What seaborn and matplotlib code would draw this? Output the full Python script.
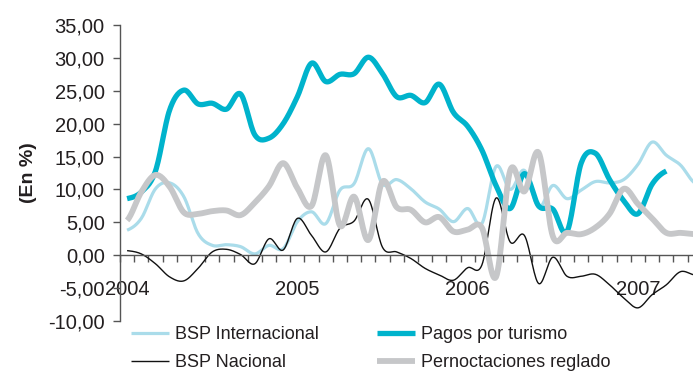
import numpy as np
import pandas as pd
import matplotlib
matplotlib.use("Agg")
import matplotlib.pyplot as plt
import seaborn as sns
from matplotlib.ticker import FixedLocator, FuncFormatter, NullFormatter

# Monthly year-on-year change (%), January 2004 onwards
years = ["2004", "2005", "2006", "2007"]
year_pos = [0, 12, 24, 36]

bsp_internacional = [3.8, 5.6, 10.1, 11.0, 8.9, 3.3, 1.5, 1.6, 1.3, 0.2,
                     1.5, 1.0, 5.1, 6.6, 4.8, 9.9, 10.9, 16.2, 10.8, 11.5,
                     10.1, 8.1, 7.0, 5.1, 7.1, 4.8, 13.5, 10.0, 12.9, 7.3,
                     10.6, 8.6, 9.9, 11.2, 11.0, 11.5, 13.8, 17.2, 15.2, 13.7,
                     11.0]
pagos_turismo = [8.6, 9.6, 12.8, 22.1, 25.1, 23.0, 23.1, 22.2, 24.5, 18.3,
                 17.8, 20.0, 24.1, 29.2, 26.4, 27.5, 27.6, 30.1, 27.6, 24.1,
                 24.3, 23.2, 26.0, 21.7, 19.6, 16.0, 10.6, 7.1, 12.4, 7.5,
                 7.0, 3.6, 14.0, 15.5, 11.5, 8.3, 6.3, 10.8, 12.8, np.nan,
                 np.nan]
bsp_nacional = [0.7, 0.2, -1.3, -3.3, -3.9, -2.0, 0.5, 0.9, 0.1, -1.3,
                2.5, 0.8, 5.6, 3.0, 0.5, 4.1, 5.2, 8.5, 1.2, 0.5,
                -0.5, -2.0, -3.0, -3.8, -1.9, -1.5, 8.7, 2.0, 3.0, -4.3,
                -0.3, -3.2, -3.2, -2.9, -4.5, -6.5, -8.0, -6.0, -4.5, -2.5,
                -3.0]
pernoctaciones = [5.3, 9.6, 12.2, 10.4, 6.5, 6.3, 6.7, 6.8, 6.1, 8.0,
                  10.5, 14.0, 10.2, 7.5, 15.2, 4.5, 8.9, 2.3, 11.2, 7.3,
                  6.9, 5.0, 5.8, 3.6, 3.9, 4.2, -3.3, 12.9, 9.7, 15.6,
                  2.9, 3.4, 3.2, 4.2, 6.3, 10.1, 7.8, 5.6, 3.4, 3.4,
                  3.2]

series = [
    ("BSP Internacional", bsp_internacional, "#aadcea", 2.3),
    ("Pagos por turismo", pagos_turismo, "#00b3cc", 3.8),
    ("BSP Nacional", bsp_nacional, "#111111", 1.0),
    ("Pernoctaciones reglado", pernoctaciones, "#c6c7c9", 4.2),
]


def smooth_curve(values, steps=16):
    """Catmull-Rom curve through the monthly points (smoothed line)."""
    y = np.asarray(values, dtype=float)
    x = np.arange(len(y), dtype=float)
    ok = ~np.isnan(y)
    x, y = x[ok], y[ok]
    xp = np.concatenate([[x[0]], x, [x[-1]]])
    yp = np.concatenate([[y[0]], y, [y[-1]]])
    xs, ys = [], []
    t = np.linspace(0, 1, steps, endpoint=False)
    for i in range(1, len(xp) - 2):
        p0, p1, p2, p3 = yp[i - 1], yp[i], yp[i + 1], yp[i + 2]
        c1 = p1 + (p2 - p0) / 6.0
        c2 = p2 - (p3 - p1) / 6.0
        b = ((1 - t) ** 3) * p1 + 3 * ((1 - t) ** 2) * t * c1 + 3 * (1 - t) * t ** 2 * c2 + t ** 3 * p2
        xs.append(xp[i] + t * (xp[i + 1] - xp[i]))
        ys.append(b)
    xs.append([x[-1]])
    ys.append([y[-1]])
    return np.concatenate(xs), np.concatenate(ys)


sns.set_theme(style="white")
plt.rcParams["font.family"] = ["Liberation Sans", "DejaVu Sans"]
plt.rcParams["text.color"] = "#231f20"
plt.rcParams["axes.labelcolor"] = "#231f20"
plt.rcParams["xtick.color"] = "#231f20"
plt.rcParams["ytick.color"] = "#231f20"

fig = plt.figure(figsize=(6.93, 3.77), dpi=100)
ax = fig.add_axes([120 / 693, 56 / 377, 573 / 693, 296 / 377])

for name, vals, color, lw in series:
    xs, ys = smooth_curve(vals)
    df = pd.DataFrame({"mes": xs, "valor": ys})
    sns.lineplot(data=df, x="mes", y="valor", ax=ax, color=color, linewidth=lw,
                 label=name, sort=False, estimator=None, solid_capstyle="butt")

ax.set_xlim(-0.5, (693 - 127.1) / 14.19)
ax.set_ylim(-10, 35)

# y axis
ax.yaxis.set_major_locator(FixedLocator(np.arange(-10, 36, 5)))
ax.yaxis.set_major_formatter(FuncFormatter(lambda v, p: f"{v:.2f}".replace(".", ",")))
ax.tick_params(axis="y", which="major", direction="out", length=5, width=1,
               color="#555555", labelsize=14.5, pad=6, left=True)
ax.set_ylabel("(En %)", fontsize=14, fontweight="bold", labelpad=8)

# x axis drawn along zero: month ticks on boundaries, year labels centered
for side in ["top", "right"]:
    ax.spines[side].set_visible(False)
ax.spines["left"].set_color("#555555")
ax.spines["left"].set_linewidth(1.0)
ax.spines["bottom"].set_position(("data", 0))
ax.spines["bottom"].set_color("#555555")
ax.spines["bottom"].set_linewidth(1.0)
ax.xaxis.set_major_locator(FixedLocator(np.arange(-0.5, 41, 1.0)))
ax.xaxis.set_major_formatter(NullFormatter())
ax.xaxis.set_minor_locator(FixedLocator(year_pos))
ax.xaxis.set_minor_formatter(FuncFormatter(lambda v, p: years[year_pos.index(int(round(v)))]))
ax.tick_params(axis="x", which="major", direction="out", length=5, width=1,
               color="#555555", bottom=True)
ax.tick_params(axis="x", which="minor", length=0, labelsize=14.5, pad=17.5, bottom=True)
ax.set_xlabel("")

handles, labels = ax.get_legend_handles_labels()
order = [0, 2, 1, 3]
leg = ax.legend([handles[i] for i in order], [labels[i] for i in order],
                ncol=2, frameon=False, fontsize=13,
                loc="upper left", bbox_to_anchor=(131 / 693, 1 - 326 / 377),
                bbox_transform=fig.transFigure,
                handlelength=2.1, handletextpad=0.35, columnspacing=3.2,
                labelspacing=0.6, borderaxespad=0, borderpad=0)

fig.savefig("out.png", dpi=100)
